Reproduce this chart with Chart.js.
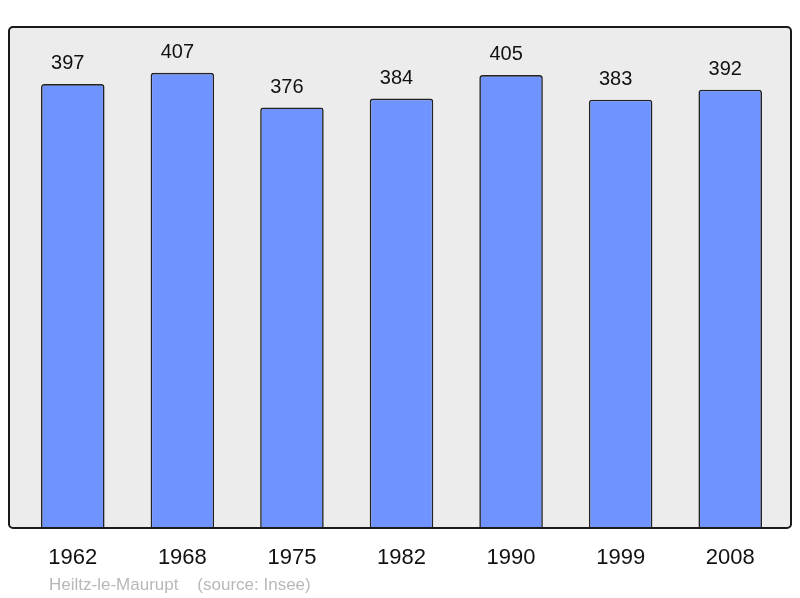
<!DOCTYPE html>
<html>
<head>
<meta charset="utf-8">
<script src="https://cdn.jsdelivr.net/npm/chart.js@4.4.1/dist/chart.umd.min.js"></script>
<style>
  html, body { margin: 0; padding: 0; background: #fff; }
  canvas { display: block; }
</style>
</head>
<body>
<canvas id="chart" width="800" height="598"></canvas>
<script>
// population per census year
const years = ['1962', '1968', '1975', '1982', '1990', '1999', '2008'];
const population = [397, 407, 376, 384, 405, 383, 392];
const footerText = 'Heiltz-le-Maurupt    (source: Insee)';

const FONT = '"Liberation Sans", Arial, sans-serif';

/* gray frame behind the bars, border drawn on top */
const framePlugin = {
  id: 'framePlugin',
  beforeDatasetsDraw(chart) {
    const ctx = chart.ctx;
    ctx.save();
    ctx.beginPath();
    ctx.roundRect(9, 27, 782, 501, 4);
    ctx.fillStyle = '#ececec';
    ctx.fill();
    ctx.restore();
  },
  afterDatasetsDraw(chart) {
    const ctx = chart.ctx;
    ctx.save();
    ctx.beginPath();
    ctx.roundRect(9, 27, 782, 501, 4);
    ctx.strokeStyle = '#1a1a1a';
    ctx.lineWidth = 2;
    ctx.stroke();
    ctx.restore();
  }
};

/* value above each bar + source line */
const labelPlugin = {
  id: 'labelPlugin',
  afterDraw(chart) {
    const ctx = chart.ctx;
    const meta = chart.getDatasetMeta(0);
    ctx.save();
    ctx.font = '20px ' + FONT;
    ctx.fillStyle = '#111';
    ctx.textAlign = 'center';
    ctx.textBaseline = 'alphabetic';
    meta.data.forEach((bar, i) => {
      ctx.fillText(String(population[i]), bar.x - 5, bar.y - 15);
    });
    ctx.font = '17px ' + FONT;
    ctx.fillStyle = '#b8b8b8';
    ctx.textAlign = 'left';
    ctx.fillText(footerText, 49, 590);
    ctx.restore();
  }
};

new Chart(document.getElementById('chart').getContext('2d'), {
  type: 'bar',
  data: {
    labels: years,
    datasets: [{
      data: population,
      backgroundColor: '#7094ff',
      borderColor: '#222',
      borderWidth: 1.6,
      borderRadius: 3,
      borderSkipped: 'bottom',
      barPercentage: 0.58,
      categoryPercentage: 1.0
    }]
  },
  options: {
    responsive: false,
    animation: false,
    devicePixelRatio: 1,
    layout: { padding: { left: 18, right: 15, top: 27, bottom: 20 } },
    plugins: {
      legend: { display: false },
      tooltip: { enabled: false },
      title: { display: false }
    },
    scales: {
      x: {
        grid: { display: false, drawTicks: false },
        border: { display: false },
        ticks: {
          color: '#111',
          font: { family: FONT, size: 22 },
          padding: 17,
          maxRotation: 0
        },
        afterFit(scale) { scale.height = 50; }
      },
      y: {
        display: false,
        min: 0,
        max: 448
      }
    }
  },
  plugins: [framePlugin, labelPlugin]
});
</script>
</body>
</html>
